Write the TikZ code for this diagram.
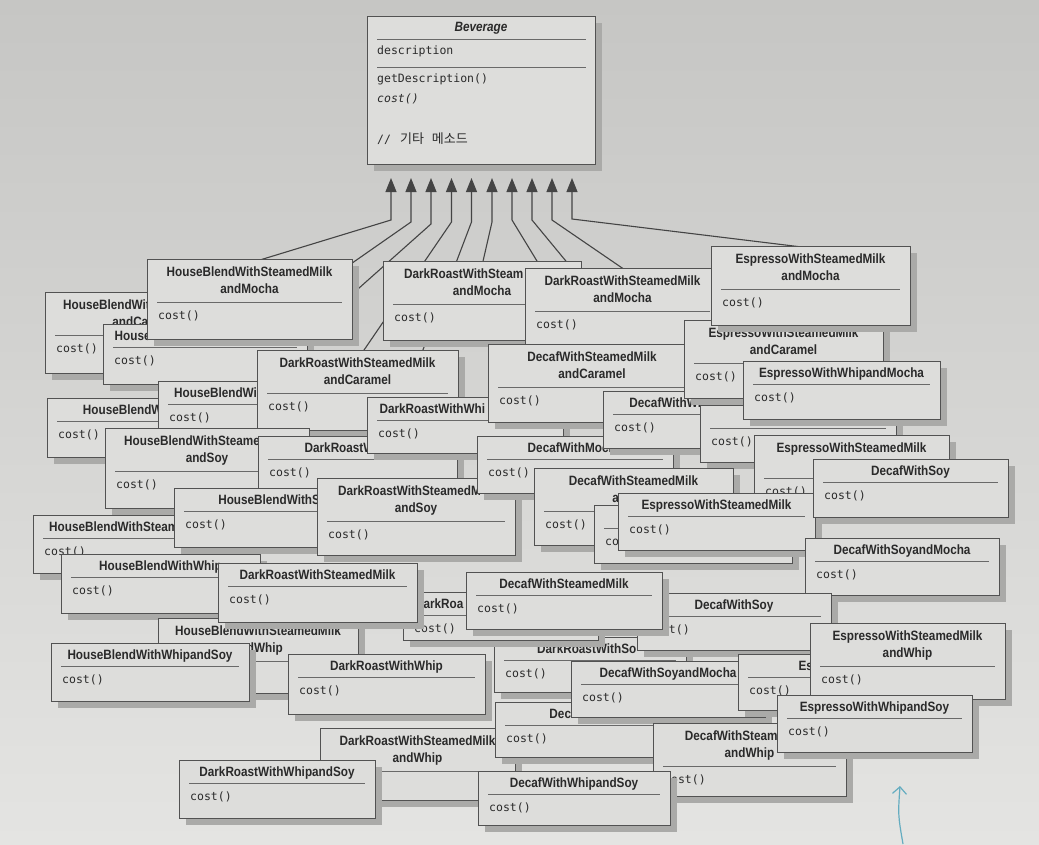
\documentclass[tikz,border=0pt]{standalone}
\usepackage{fontspec}
\usetikzlibrary{arrows.meta,shadows}
\newfontfamily\ttlfam{Liberation Sans}[FakeStretch=0.87]
\newfontfamily\monofam{DejaVu Sans Mono}
\newfontfamily\krfam{Noto Sans CJK KR}
\definecolor{bgtop}{RGB}{198,198,196}
\definecolor{bgbot}{RGB}{228,228,226}
\definecolor{boxfill}{RGB}{221,221,219}
\definecolor{boxline}{RGB}{82,82,82}
\definecolor{shadowc}{RGB}{170,170,168}
\definecolor{divc}{RGB}{105,105,105}
\definecolor{txt}{RGB}{42,42,42}
\definecolor{linec}{RGB}{68,68,68}
\definecolor{blu}{RGB}{100,172,192}
\newcommand\myttl{\ttlfam\bfseries\fontsize{13.5}{17}\selectfont}
\newcommand\mymth{\monofam\fontsize{11.5}{14}\selectfont}
\newcommand\costtxt{cost()}
\tikzset{
  cbox/.style={draw=boxline, line width=0.9pt, fill=boxfill, inner sep=0pt, outer sep=0pt, anchor=north west,
    drop shadow={shadow xshift=7pt, shadow yshift=-7pt, fill=shadowc, opacity=1}},
  ttl/.style={font=\myttl, text=txt, inner sep=0pt, text height=9.7pt, text depth=2.8pt},
  mth/.style={font=\mymth, text=txt, inner sep=0pt, anchor=west, text height=8.5pt, text depth=2.5pt},
  divl/.style={draw=divc, line width=0.6pt},
  inh/.style={draw=linec, line width=1.1pt, -{Triangle[length=14pt,width=11pt]}},
}
% one-line class box: [title offset]{name}{x1}{y1}{x2}{y2}{title}
\newcommand\clsA[7][0]{%
  \pgfmathsetmacro\clsW{#5-#3}\pgfmathsetmacro\clsH{#6-#4}%
  \node[cbox, minimum width=\clsW pt, minimum height=\clsH pt] (#2) at (#3,#4) {};
  \node[ttl] (#2-t) at ({(#3+#5)/2+#1},{#4+13}) {#7};
  \draw[divl] ({#3+10},{#4+23}) -- ({#5-10},{#4+23});
  \node[mth] (#2-m) at ({#3+11},{#4+37}) {\costtxt};
}
% two-line class box
\newcommand\clsB[8][0]{%
  \pgfmathsetmacro\clsW{#5-#3}\pgfmathsetmacro\clsH{#6-#4}%
  \node[cbox, minimum width=\clsW pt, minimum height=\clsH pt] (#2) at (#3,#4) {};
  \node[ttl] (#2-t) at ({(#3+#5)/2+#1},{#4+14}) {#7};
  \node[ttl] (#2-u) at ({(#3+#5)/2+#1},{#4+31}) {#8};
  \draw[divl] ({#3+10},{#4+43}) -- ({#5-10},{#4+43});
  \node[mth] (#2-m) at ({#3+11},{#4+57}) {\costtxt};
}
\begin{document}
\begin{tikzpicture}[x=1pt,y=-1pt]
\useasboundingbox (0,0) rectangle (1039,844);
\shade[top color=bgtop, bottom color=bgbot] (0,0) rectangle (1039,844);

% Beverage
\node[cbox, minimum width=228pt, minimum height=148pt] (bev) at (367,16) {};
\node[ttl, font=\ttlfam\bfseries\itshape\fontsize{13.5}{17}\selectfont] (bev-t) at (481,28) {Beverage};
\draw[divl] (377,39) -- (586,39);
\node[mth] (bev-a) at (377,51) {description};
\draw[divl] (377,67) -- (586,67);
\node[mth] (bev-m1) at (377,79) {getDescription()};
\node[mth, font=\monofam\itshape\fontsize{11.5}{14}\selectfont] (bev-m2) at (377,99) {cost()};
\node[mth] (bev-m3) at (377,140) {//\hspace{9pt}{\krfam\fontsize{13}{14}\selectfont 기타\hspace{5pt} 메소드}};

% arrow tips, bends, ends
\foreach \i/\tx/\ky/\ex/\ey in {1/391/220/250/263, 2/411/222/335/275, 3/431/224/340/305, 4/451.5/222/362/353, 5/471.5/222/421/355, 6/492/222/481/270, 7/512/220/540/266, 8/532/220/570/266, 9/552/220/628/272, 10/572/219/810/248}{
  \coordinate (t\i) at (\tx,178);
  \coordinate (k\i) at (\tx,\ky);
  \coordinate (e\i) at (\ex,\ey);
}
\foreach \i in {1,...,10}{ \draw[inh] (e\i) -- (k\i) -- (t\i); }

% class boxes, bottom to top
\clsB{A}{45}{292}{247}{373}{HouseBlendWit\phantom{hSteamedMilk}}{andCa\phantom{ramel}}
\clsA{B}{103}{324}{307}{384}{House\phantom{BlendWithWhipandMocha}}
\clsB{C}{147}{259}{352}{339}{HouseBlendWithSteamedMilk}{andMocha}
\clsB{D}{383}{261}{581}{340}{DarkRoastWithSteam\phantom{edMilk}}{andMocha}
\clsB{E}{525}{268}{720}{346}{DarkRoastWithSteamedMilk}{andMocha}
\clsA{L}{47}{398}{250}{457}{HouseBlendW\phantom{ithMocha}}
\clsA{K}{158}{381}{356}{437}{HouseBlendWi\phantom{thSteamedMilk}}
\clsB{J}{257}{350}{458}{430}{DarkRoastWithSteamedMilk}{andCaramel}
\clsB{M}{105}{428}{309}{508}{HouseBlendWithSteame\phantom{dMilk}}{andSoy}
\clsA{N}{258}{436}{457}{493}{DarkRoastW\phantom{ithSoy}}
\clsA{O}{367}{397}{563}{453}{DarkRoastWithWhi\phantom{pandMocha}}
\clsA{S}{33}{515}{231}{573}{HouseBlendWithSteam\phantom{edMilk}}
\clsA{R}{174}{488}{378}{547}{HouseBlendWithS\phantom{oy}}
\clsB{Q}{317}{478}{515}{555}{DarkRoastWithSteamedM\phantom{ilk}}{andSoy}
\clsB{I}{488}{344}{696}{422}{DecafWithSteamedMilk}{andCaramel}
\clsA{P}{477}{436}{673}{493}{DecafWithMocha}
\clsA{AE}{603}{391}{800}{448}{DecafWithWhipand\phantom{Mocha}}
\clsB{G}{684}{320}{883}{398}{EspressoWithSteamedMilk}{andCaramel}
\clsB{F}{711}{246}{910}{325}{EspressoWithSteamedMilk}{andMocha}
\clsA{AF}{700}{405}{896}{462}{\phantom{EspressoWithSoy}}
\clsA{H}{743}{361}{940}{419}{EspressoWithWhipandMocha}
\clsB{AG}{754}{435}{949}{513}{EspressoWithSteamedMilk}{\phantom{andSoy}}
\clsB{AJ}{534}{468}{733}{545}{DecafWithSteamedMilk}{a\phantom{ndSoy}}
\renewcommand\costtxt{co\phantom{st()}}
\clsA{AK}{594}{505}{792}{563}{\phantom{EspressoWithMocha}}
\renewcommand\costtxt{cost()}
\clsA{AI}{618}{493}{815}{550}{EspressoWithSteamedMilk}
\clsA{AH}{813}{459}{1008}{517}{DecafWithSoy}
\clsA{AL}{805}{538}{999}{595}{DecafWithSoyandMocha}
\clsA{T}{61}{554}{260}{613}{HouseBlendWithWhip}
\clsB{X}{158}{618}{358}{693}{HouseBlendWithSteamedMilk}{\phantom{an}dWhip}
\clsA{AA}{494}{637}{686}{692}{DarkRoastWithSo\phantom{y}}
\clsA{V}{403}{592}{598}{640}{DarkRoa\phantom{stWithWhipandMocha}}
\clsA{AB}{637}{593}{831}{650}{DecafWithSoy}
\clsA{U}{218}{563}{417}{622}{DarkRoastWithSteamedMilk}
\clsA{W}{466}{572}{662}{629}{DecafWithSteamedMilk}
\clsA{Y}{51}{643}{249}{701}{HouseBlendWithWhipandSoy}
\clsA{Z}{288}{654}{485}{714}{DarkRoastWithWhip}
\clsB{AQ}{320}{728}{515}{800}{DarkRoastWithSteamedMilk}{andWhip}
\clsA{AS}{495}{702}{690}{757}{Dec\phantom{afWithWhip}}
\clsA{AC}{571}{661}{765}{717}{DecafWithSoyandMocha}
\clsA[12]{AD}{738}{654}{935}{710}{Es\phantom{pressoWithSoy}}
\clsB{AN}{810}{623}{1005}{699}{EspressoWithSteamedMilk}{andWhip}
\clsB{AP}{653}{723}{846}{796}{DecafWithSteam\phantom{edMilk}}{andWhip}
\clsA{AO}{777}{695}{972}{752}{EspressoWithWhipandSoy}
\clsA{AR}{179}{760}{375}{818}{DarkRoastWithWhipandSoy}
\clsA{AV}{478}{771}{670}{825}{DecafWithWhipandSoy}

% small marginal arrow
\coordinate (ba) at (903,844);
\coordinate (bt) at (900,786);
\draw[blu, line width=1.2pt, -{Straight Barb[length=7pt,width=14pt]}] (ba) .. controls (898,815) .. (bt);
\end{tikzpicture}
\end{document}
